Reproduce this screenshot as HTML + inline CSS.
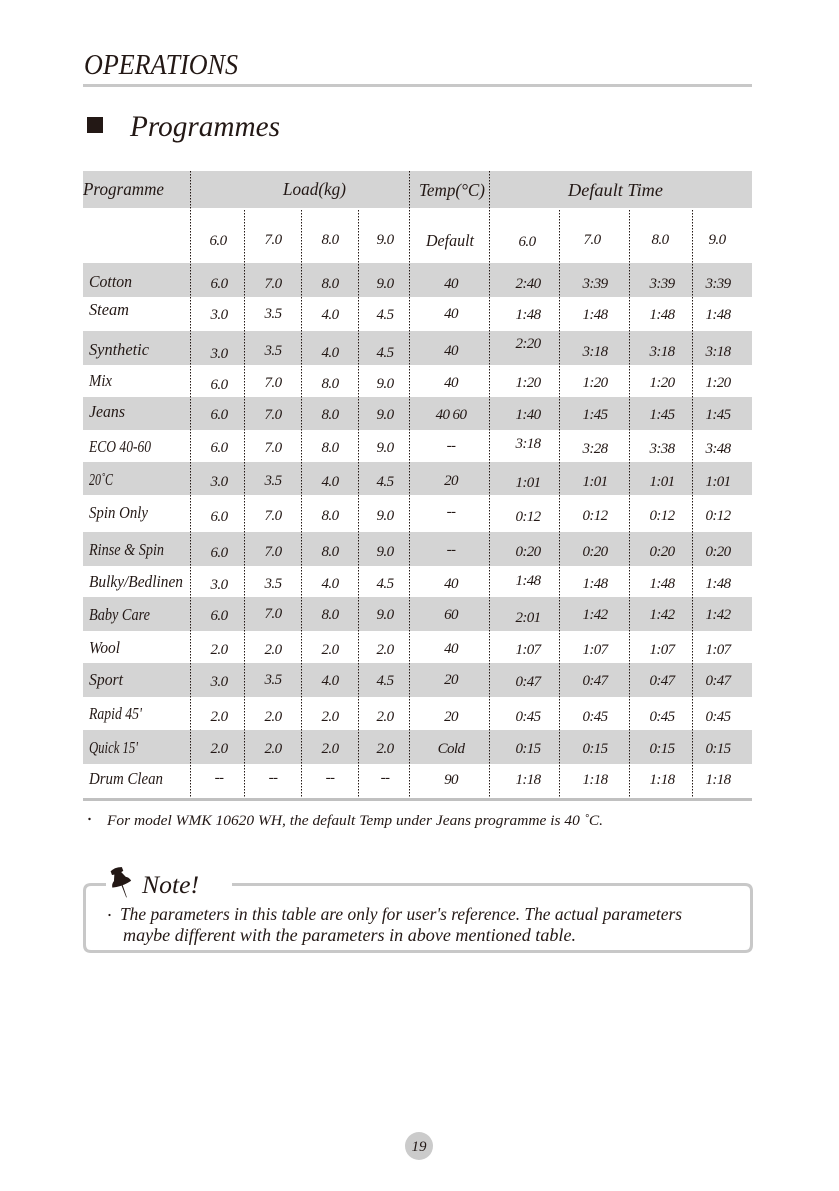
<!DOCTYPE html>
<html><head><meta charset="utf-8"><style>
html,body{margin:0;padding:0;background:#fff;}
svg{display:block;}
text{font-family:"Liberation Serif",serif;font-style:italic;fill:#231815;}
.v{font-size:15px;text-anchor:middle;letter-spacing:-0.6px;}
.l{font-size:17px;}
.h{font-size:18px;}
</style></head><body>
<svg width="839" height="1191" viewBox="0 0 839 1191" xmlns="http://www.w3.org/2000/svg">
<rect x="0" y="0" width="839" height="1191" fill="#fff"/>
<!-- Header -->
<text x="84" y="74" font-size="29" textLength="154" lengthAdjust="spacingAndGlyphs">OPERATIONS</text>
<rect x="83" y="84" width="669" height="3" fill="#c8c8c8"/>
<rect x="87" y="117" width="16" height="16" fill="#231815"/>
<text x="130" y="136" font-size="30" textLength="150" lengthAdjust="spacingAndGlyphs">Programmes</text>

<!-- bands -->
<g fill="#d4d4d4">
<rect x="83" y="171" width="669" height="37"/>
<rect x="83" y="263" width="669" height="34"/>
<rect x="83" y="331" width="669" height="34"/>
<rect x="83" y="397" width="669" height="33"/>
<rect x="83" y="462" width="669" height="33"/>
<rect x="83" y="532" width="669" height="34"/>
<rect x="83" y="597" width="669" height="34"/>
<rect x="83" y="663" width="669" height="34"/>
<rect x="83" y="730" width="669" height="34"/>
</g>
<rect x="83" y="798" width="669" height="3" fill="#c0c0c0"/>

<!-- dotted lines -->
<g stroke="#231815" stroke-width="1" stroke-dasharray="1.5,1.5" fill="none">
<line x1="190.5" y1="171" x2="190.5" y2="798"/>
<line x1="409.5" y1="171" x2="409.5" y2="798"/>
<line x1="489.5" y1="171" x2="489.5" y2="798"/>
<line x1="244.5" y1="210" x2="244.5" y2="798"/>
<line x1="301.5" y1="210" x2="301.5" y2="798"/>
<line x1="358.5" y1="210" x2="358.5" y2="798"/>
<line x1="559.5" y1="210" x2="559.5" y2="798"/>
<line x1="629.5" y1="210" x2="629.5" y2="798"/>
<line x1="692.5" y1="210" x2="692.5" y2="798"/>
</g>

<!-- header text -->
<text class="h" x="83" y="195" textLength="81" lengthAdjust="spacingAndGlyphs">Programme</text>
<text class="h" x="283" y="195" textLength="63" lengthAdjust="spacingAndGlyphs">Load(kg)</text>
<text class="h" x="419" y="196" textLength="66" lengthAdjust="spacingAndGlyphs">Temp(°C)</text>
<text class="h" x="568" y="196" textLength="95" lengthAdjust="spacingAndGlyphs">Default  Time</text>

<text class="v" x="218" y="245">6.0</text><text class="v" x="273" y="244">7.0</text><text class="v" x="330" y="244">8.0</text><text class="v" x="385" y="244">9.0</text>
<text x="426" y="246" font-size="17" textLength="48" lengthAdjust="spacingAndGlyphs">Default</text>
<text class="v" x="527" y="246">6.0</text><text class="v" x="592" y="244">7.0</text><text class="v" x="660" y="244">8.0</text><text class="v" x="717" y="244">9.0</text>

<!-- rows -->
<text class="l" x="89" y="287" textLength="43" lengthAdjust="spacingAndGlyphs">Cotton</text>
<text class="v" x="219" y="288">6.0</text><text class="v" x="273" y="288">7.0</text><text class="v" x="330" y="288">8.0</text><text class="v" x="385" y="288">9.0</text>
<text class="v" x="451" y="288">40</text>
<text class="v" x="528" y="288">2:40</text><text class="v" x="595" y="288">3:39</text><text class="v" x="662" y="288">3:39</text><text class="v" x="718" y="288">3:39</text>

<text class="l" x="89" y="315" textLength="40" lengthAdjust="spacingAndGlyphs">Steam</text>
<text class="v" x="219" y="319">3.0</text><text class="v" x="273" y="318">3.5</text><text class="v" x="330" y="319">4.0</text><text class="v" x="385" y="319">4.5</text>
<text class="v" x="451" y="318">40</text>
<text class="v" x="528" y="319">1:48</text><text class="v" x="595" y="319">1:48</text><text class="v" x="662" y="319">1:48</text><text class="v" x="718" y="319">1:48</text>

<text class="l" x="89" y="355" textLength="60" lengthAdjust="spacingAndGlyphs">Synthetic</text>
<text class="v" x="219" y="358">3.0</text><text class="v" x="273" y="355">3.5</text><text class="v" x="330" y="357">4.0</text><text class="v" x="385" y="357">4.5</text>
<text class="v" x="451" y="355">40</text>
<text class="v" x="528" y="348">2:20</text><text class="v" x="595" y="356">3:18</text><text class="v" x="662" y="356">3:18</text><text class="v" x="718" y="356">3:18</text>

<text class="l" x="89" y="386" textLength="23" lengthAdjust="spacingAndGlyphs">Mix</text>
<text class="v" x="219" y="389">6.0</text><text class="v" x="273" y="387">7.0</text><text class="v" x="330" y="388">8.0</text><text class="v" x="385" y="388">9.0</text>
<text class="v" x="451" y="387">40</text>
<text class="v" x="528" y="387">1:20</text><text class="v" x="595" y="387">1:20</text><text class="v" x="662" y="387">1:20</text><text class="v" x="718" y="387">1:20</text>

<text class="l" x="89" y="417" textLength="36" lengthAdjust="spacingAndGlyphs">Jeans</text>
<text class="v" x="219" y="419">6.0</text><text class="v" x="273" y="419">7.0</text><text class="v" x="330" y="419">8.0</text><text class="v" x="385" y="419">9.0</text>
<text class="v" x="451" y="419">40 60</text>
<text class="v" x="528" y="419">1:40</text><text class="v" x="595" y="419">1:45</text><text class="v" x="662" y="419">1:45</text><text class="v" x="718" y="419">1:45</text>

<text class="l" x="89" y="452" textLength="62" lengthAdjust="spacingAndGlyphs">ECO 40-60</text>
<text class="v" x="219" y="452">6.0</text><text class="v" x="273" y="452">7.0</text><text class="v" x="330" y="452">8.0</text><text class="v" x="385" y="452">9.0</text>
<text class="v" x="451" y="450" fill="#777">--</text>
<text class="v" x="528" y="448">3:18</text><text class="v" x="595" y="453">3:28</text><text class="v" x="662" y="453">3:38</text><text class="v" x="718" y="453">3:48</text>

<text class="l" x="89" y="485" textLength="24" lengthAdjust="spacingAndGlyphs">20˚C</text>
<text class="v" x="219" y="486">3.0</text><text class="v" x="273" y="485">3.5</text><text class="v" x="330" y="486">4.0</text><text class="v" x="385" y="486">4.5</text>
<text class="v" x="451" y="485">20</text>
<text class="v" x="528" y="487">1:01</text><text class="v" x="595" y="486">1:01</text><text class="v" x="662" y="486">1:01</text><text class="v" x="718" y="486">1:01</text>

<text class="l" x="89" y="518" textLength="59" lengthAdjust="spacingAndGlyphs">Spin Only</text>
<text class="v" x="219" y="521">6.0</text><text class="v" x="273" y="520">7.0</text><text class="v" x="330" y="520">8.0</text><text class="v" x="385" y="520">9.0</text>
<text class="v" x="451" y="516" fill="#777">--</text>
<text class="v" x="528" y="521">0:12</text><text class="v" x="595" y="520">0:12</text><text class="v" x="662" y="520">0:12</text><text class="v" x="718" y="520">0:12</text>

<text class="l" x="89" y="555" textLength="75" lengthAdjust="spacingAndGlyphs">Rinse &amp; Spin</text>
<text class="v" x="219" y="557">6.0</text><text class="v" x="273" y="556">7.0</text><text class="v" x="330" y="556">8.0</text><text class="v" x="385" y="556">9.0</text>
<text class="v" x="451" y="554" fill="#777">--</text>
<text class="v" x="528" y="556">0:20</text><text class="v" x="595" y="556">0:20</text><text class="v" x="662" y="556">0:20</text><text class="v" x="718" y="556">0:20</text>

<text class="l" x="89" y="587" textLength="94" lengthAdjust="spacingAndGlyphs">Bulky/Bedlinen</text>
<text class="v" x="219" y="589">3.0</text><text class="v" x="273" y="588">3.5</text><text class="v" x="330" y="588">4.0</text><text class="v" x="385" y="588">4.5</text>
<text class="v" x="451" y="588">40</text>
<text class="v" x="528" y="585">1:48</text><text class="v" x="595" y="588">1:48</text><text class="v" x="662" y="588">1:48</text><text class="v" x="718" y="588">1:48</text>

<text class="l" x="89" y="620" textLength="61" lengthAdjust="spacingAndGlyphs">Baby Care</text>
<text class="v" x="219" y="620">6.0</text><text class="v" x="273" y="618">7.0</text><text class="v" x="330" y="619">8.0</text><text class="v" x="385" y="619">9.0</text>
<text class="v" x="451" y="619">60</text>
<text class="v" x="528" y="622">2:01</text><text class="v" x="595" y="619">1:42</text><text class="v" x="662" y="619">1:42</text><text class="v" x="718" y="619">1:42</text>

<text class="l" x="89" y="653" textLength="31" lengthAdjust="spacingAndGlyphs">Wool</text>
<text class="v" x="219" y="654">2.0</text><text class="v" x="273" y="654">2.0</text><text class="v" x="330" y="654">2.0</text><text class="v" x="385" y="654">2.0</text>
<text class="v" x="451" y="653">40</text>
<text class="v" x="528" y="654">1:07</text><text class="v" x="595" y="654">1:07</text><text class="v" x="662" y="654">1:07</text><text class="v" x="718" y="654">1:07</text>

<text class="l" x="89" y="685" textLength="34" lengthAdjust="spacingAndGlyphs">Sport</text>
<text class="v" x="219" y="686">3.0</text><text class="v" x="273" y="684">3.5</text><text class="v" x="330" y="685">4.0</text><text class="v" x="385" y="685">4.5</text>
<text class="v" x="451" y="684">20</text>
<text class="v" x="528" y="686">0:47</text><text class="v" x="595" y="685">0:47</text><text class="v" x="662" y="685">0:47</text><text class="v" x="718" y="685">0:47</text>

<text class="l" x="89" y="719" textLength="53" lengthAdjust="spacingAndGlyphs">Rapid 45'</text>
<text class="v" x="219" y="721">2.0</text><text class="v" x="273" y="721">2.0</text><text class="v" x="330" y="721">2.0</text><text class="v" x="385" y="721">2.0</text>
<text class="v" x="451" y="721">20</text>
<text class="v" x="528" y="721">0:45</text><text class="v" x="595" y="721">0:45</text><text class="v" x="662" y="721">0:45</text><text class="v" x="718" y="721">0:45</text>

<text class="l" x="89" y="753" textLength="49" lengthAdjust="spacingAndGlyphs">Quick 15'</text>
<text class="v" x="219" y="753">2.0</text><text class="v" x="273" y="753">2.0</text><text class="v" x="330" y="753">2.0</text><text class="v" x="385" y="753">2.0</text>
<text class="v" x="451" y="753" font-size="16">Cold</text>
<text class="v" x="528" y="753">0:15</text><text class="v" x="595" y="753">0:15</text><text class="v" x="662" y="753">0:15</text><text class="v" x="718" y="753">0:15</text>

<text class="l" x="89" y="784" textLength="74" lengthAdjust="spacingAndGlyphs">Drum Clean</text>
<text class="v" x="219" y="782" fill="#777">--</text><text class="v" x="273" y="782" fill="#777">--</text><text class="v" x="330" y="782" fill="#777">--</text><text class="v" x="385" y="782" fill="#777">--</text>
<text class="v" x="451" y="784">90</text>
<text class="v" x="528" y="784">1:18</text><text class="v" x="595" y="784">1:18</text><text class="v" x="662" y="784">1:18</text><text class="v" x="718" y="784">1:18</text>

<!-- footnote -->
<circle cx="89.5" cy="819" r="1.2" fill="#231815"/>
<text x="107" y="825" font-size="15" textLength="496" lengthAdjust="spacingAndGlyphs">For model WMK 10620 WH, the default Temp under Jeans programme is 40 ˚C.</text>

<!-- note box -->
<path d="M106,884.5 L91,884.5 Q84.5,884.5 84.5,891 L84.5,945 Q84.5,951.5 91,951.5 L745,951.5 Q751.5,951.5 751.5,945 L751.5,891 Q751.5,884.5 745,884.5 L232,884.5" fill="none" stroke="#c8c8c8" stroke-width="3"/>
<g transform="rotate(-20 122 882)" fill="#231815">
<path d="M115,868 Q121,865.5 127,868 L127,872 Q121,873.5 115,872 Z"/>
<path d="M117.5,872 L124.5,872 L127.5,879 L114.5,879 Z"/>
<path d="M111,884 Q112,877 121,877.5 Q130,877 131,884 Q121,886.5 111,884 Z"/>
<path d="M120.4,885 L121.6,885 L121.3,898 L120.7,898 Z"/>
</g>
<text x="142" y="893" font-size="25" textLength="57" lengthAdjust="spacingAndGlyphs">Note!</text>
<circle cx="109.5" cy="915" r="1.1" fill="#231815"/>
<text x="120" y="920" font-size="17.5" textLength="562" lengthAdjust="spacingAndGlyphs">The parameters in this table are only for user's reference. The actual parameters</text>
<text x="123" y="941" font-size="17.5" textLength="453" lengthAdjust="spacingAndGlyphs">maybe different  with the parameters in above mentioned table.</text>

<!-- page number -->
<circle cx="419" cy="1146" r="14" fill="#cbcbcb"/>
<text x="419" y="1151" font-size="15" text-anchor="middle">19</text>
</svg>
</body></html>
